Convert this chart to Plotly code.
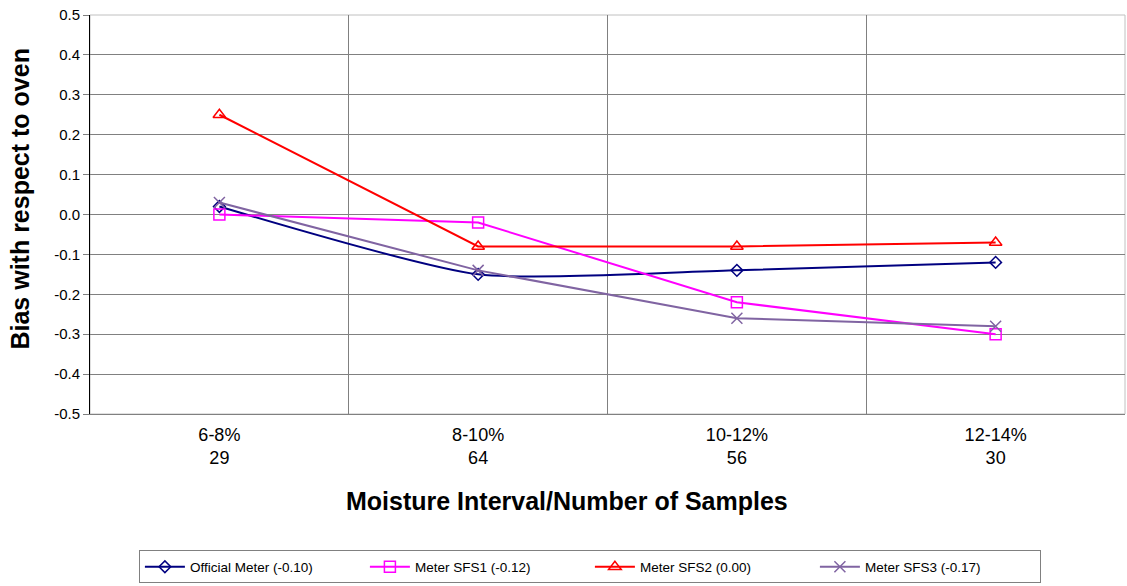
import plotly.graph_objects as go

categories = ["6-8%<br>29", "8-10%<br>64", "10-12%<br>56", "12-14%<br>30"]
official = [0.02, -0.15, -0.14, -0.12]
sfs1 = [0.00, -0.02, -0.22, -0.30]
sfs2 = [0.25, -0.08, -0.08, -0.07]
sfs3 = [0.03, -0.14, -0.26, -0.28]
names = ["Official Meter (-0.10)", "Meter SFS1 (-0.12)", "Meter SFS2 (0.00)", "Meter SFS3 (-0.17)"]
yticks = [-0.5, -0.4, -0.3, -0.2, -0.1, 0.0, 0.1, 0.2, 0.3, 0.4, 0.5]

xpos = list(range(len(categories)))
fig = go.Figure()
styles = [
    (official, "#000080", "diamond-open", "spline", 9),
    (sfs1, "#FF00FF", "square-open", "linear", 11),
    (sfs2, "#FF0000", "triangle-up-open", "linear", 11),
    (sfs3, "#8064A2", "x-thin-open", "linear", 11),
]
for (vals, col, sym, shape, sz), nm in zip(styles, names):
    fig.add_trace(go.Scatter(
        x=xpos, y=vals, name=nm, mode="lines+markers",
        line=dict(color=col, width=2, shape=shape, smoothing=0.6),
        marker=dict(symbol=sym, size=sz, color=col, line=dict(color=col, width=1.5)),
    ))

fig.update_layout(
    width=1127, height=586,
    margin=dict(l=90, r=2, t=15, b=170),
    plot_bgcolor="white", paper_bgcolor="white",
    font=dict(family="Liberation Sans, Arial", size=15, color="black"),
    showlegend=True,
    legend=dict(orientation="h", x=0.483, xanchor="center", y=-0.342, yanchor="top",
                bordercolor="#808080", borderwidth=1, font=dict(size=13.5),
                entrywidth=170, entrywidthmode="pixels", itemwidth=40),
)
fig.update_xaxes(
    range=[-0.5, 3.5], tickvals=xpos, ticktext=categories, showgrid=False,
    showline=True, linecolor="#808080", linewidth=1, ticks="", zeroline=False,
    tickfont=dict(size=18), automargin=False, ticklabelstandoff=4,
    minor=dict(tickvals=[0.5, 1.5, 2.5, 3.5], showgrid=True, gridcolor="#808080", gridwidth=1, ticks=""),
)
fig.update_yaxes(
    range=[-0.5, 0.5], tickvals=yticks, ticktext=[f"{v:.1f}" for v in yticks],
    showgrid=True, gridcolor="#808080", gridwidth=1, zeroline=False,
    showline=True, linecolor="black", linewidth=1, ticks="outside", ticklen=6, tickcolor="#808080",
    tickfont=dict(size=15), automargin=False,
)
fig.add_annotation(text="<b>Bias with respect to oven</b>", textangle=-90,
                   xref="paper", yref="paper", x=-0.068, y=0.539, xanchor="center", yanchor="middle",
                   showarrow=False, font=dict(size=25))
fig.add_annotation(text="<b>Moisture Interval/Number of Samples</b>",
                   xref="paper", yref="paper", x=0.461, y=-0.217, xanchor="center", yanchor="middle",
                   showarrow=False, font=dict(size=25))
fig.add_shape(type="rect", xref="paper", yref="paper", x0=0, x1=1, y0=0, y1=1,
              line=dict(color="#C0C0C0", width=1), layer="below")
fig.write_html("out.html", config={"displayModeBar": False},
               post_script="document.body.style.margin='0px';")
